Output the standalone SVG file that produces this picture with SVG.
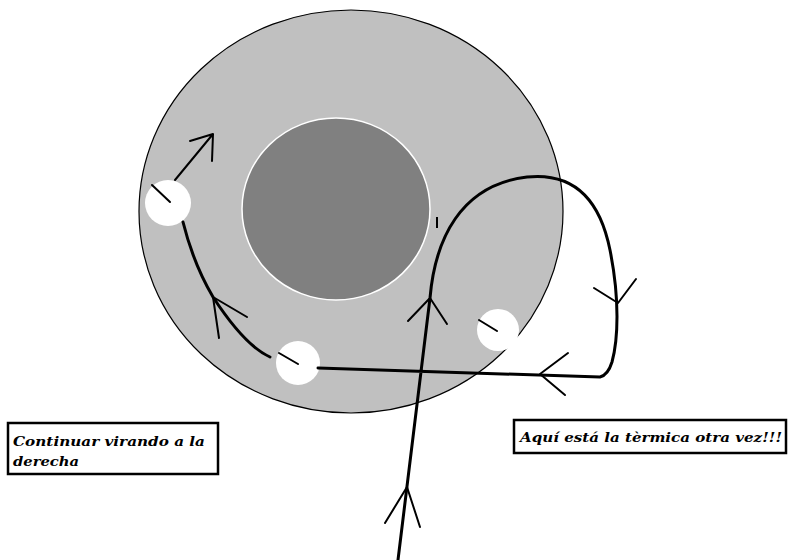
<svg xmlns="http://www.w3.org/2000/svg" width="788" height="560" viewBox="0 0 788 560">
<style>
.path{fill:none;stroke:#000;stroke-width:3;stroke-linecap:round;stroke-linejoin:round}
.thin{fill:none;stroke:#000;stroke-width:2;stroke-linecap:round;stroke-linejoin:round}
.dot{fill:#fff}
.box{fill:#fff;stroke:#000;stroke-width:2.5}
.lbl{font-family:"DejaVu Serif","Liberation Serif",serif;font-weight:bold;font-style:italic;font-size:13px;fill:#000}
</style>
<rect width="788" height="560" fill="#fff"/>
<g id="outer-ring">
<ellipse cx="351" cy="211.5" rx="212" ry="201.5" fill="#c0c0c0" stroke="#000" stroke-width="1.2"/>
</g>
<g id="core">
<ellipse cx="336" cy="209" rx="94" ry="91" fill="#808080" stroke="#fff" stroke-width="1.5"/>
</g>
<g id="dot-left">
<circle class="dot" cx="168" cy="203" r="23"/>
<line class="thin" x1="152" y1="185" x2="170" y2="202"/>
</g>
<g id="dot-bottom">
<circle class="dot" cx="298" cy="363" r="22"/>
<line class="thin" x1="279" y1="353" x2="298" y2="364"/>
</g>
<g id="dot-right">
<circle class="dot" cx="498" cy="330" r="21"/>
<line class="thin" x1="479" y1="320" x2="497" y2="331"/>
</g>
<g id="mark">
<line x1="437" y1="217" x2="437" y2="228" stroke="#000" stroke-width="2"/>
</g>
<g id="connectors">
<path class="thin" d="M175,180 L213,134 M190,141 L213,134 L212,161"/>
<path class="path" d="M270,357 C250,348 228,320 213,297 C200,275 190,250 183,222"/>
<path class="thin" d="M247,317 L213,297 L219,338"/>
<path class="path" d="M398,560 L430,298 C435,240 460,185 527,177 C575,172 600,200 610,250 C620,300 618,340 612,362 Q608,375 600,377 L318,368"/>
<path class="thin" d="M385,523 L407,487 L420,527"/>
<path class="thin" d="M408,321 L430,298 L447,324"/>
<path class="thin" d="M594,288 L618,303 L636,279"/>
<path class="thin" d="M568,353 L540,374 L565,395"/>
</g>
<g id="label-left">
<rect class="box" x="8" y="423" width="210" height="51"/>
<text class="lbl" x="13" y="446" textLength="192" lengthAdjust="spacingAndGlyphs">Continuar virando a la</text>
<text class="lbl" x="13" y="466" textLength="66" lengthAdjust="spacingAndGlyphs">derecha</text>
</g>
<g id="label-right">
<rect class="box" x="514" y="420" width="272" height="33"/>
<text class="lbl" x="520" y="442" textLength="262" lengthAdjust="spacingAndGlyphs">Aquí está la tèrmica otra vez!!!</text>
</g>
</svg>
